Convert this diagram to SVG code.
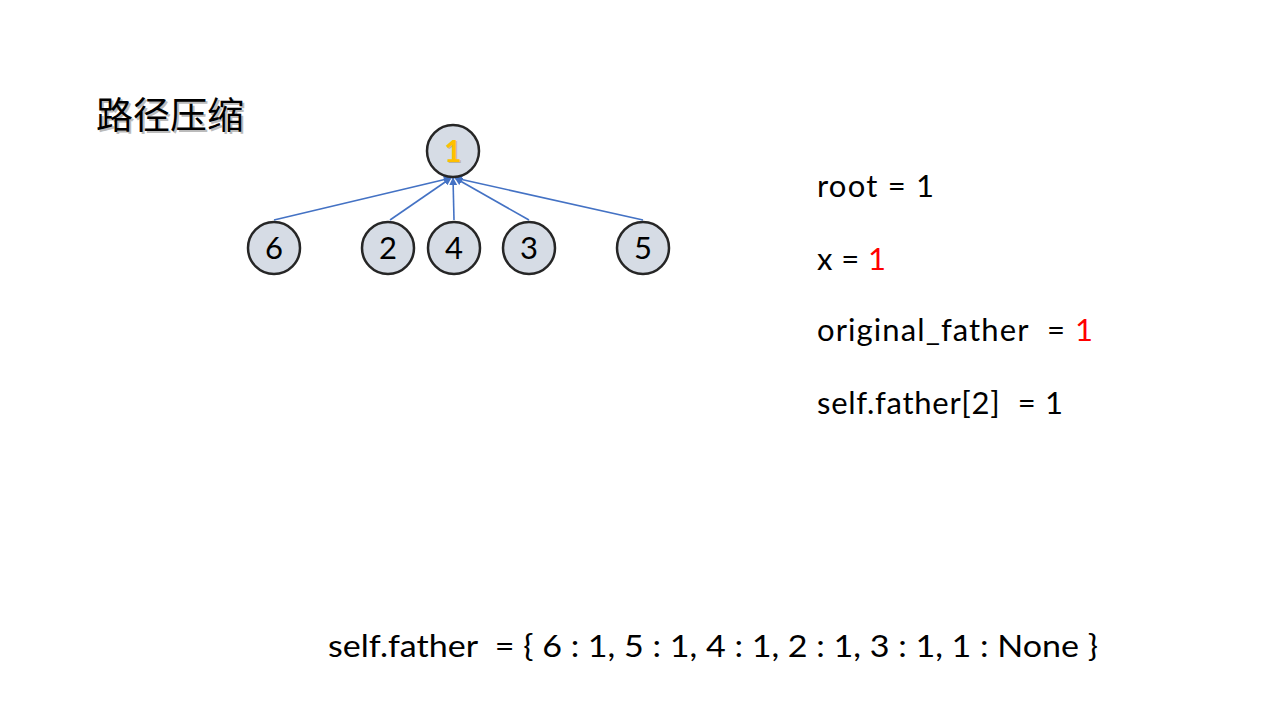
<svg xmlns="http://www.w3.org/2000/svg" width="1280" height="720" viewBox="0 0 1280 720" xml:space="preserve">
<style>
.node{fill:#D6DCE5;stroke:#262626;stroke-width:2.5}
.lbl{font-family:Lato,"Open Sans","Liberation Sans",sans-serif;font-size:31px;fill:#000;text-anchor:middle}
.txt{font-family:Lato,"Open Sans","Liberation Sans",sans-serif;font-size:31px;fill:#000;white-space:pre}
.red{fill:#FF0000}
.edge{stroke:#4472C4;stroke-width:1.6;fill:none;marker-end:url(#arr)}
</style>
<defs>
<marker id="arr" viewBox="0 0 10 10" refX="9" refY="5" markerWidth="5" markerHeight="5" orient="auto" markerUnits="strokeWidth">
<path d="M0,0 L10,5 L0,10 z" fill="#4472C4"/>
</marker>
</defs>
<rect width="1280" height="720" fill="#fff"/>
<g id="title">
<text x="98" y="131" font-family="'Noto Sans CJK SC',sans-serif" font-size="37" fill="#bbb">路径压缩</text>
<text x="96" y="129" font-family="'Noto Sans CJK SC',sans-serif" font-size="37" fill="#000">路径压缩</text>
</g>
<g id="connectors">
<line class="edge" x1="274" y1="220" x2="451" y2="178"/>
<line class="edge" x1="390" y1="220" x2="451" y2="178"/>
<line class="edge" x1="454" y1="220" x2="453" y2="178"/>
<line class="edge" x1="529" y1="220" x2="455" y2="178"/>
<line class="edge" x1="643" y1="220" x2="455" y2="178"/>
</g>
<g id="n1"><circle class="node" cx="453" cy="151" r="26"/>
<text x="454" y="163" font-family="Lato,'Liberation Sans',sans-serif" font-size="30" font-weight="bold" fill="#9a8a60" opacity="0.5" text-anchor="middle">1</text>
<text x="453" y="162" font-family="Lato,'Liberation Sans',sans-serif" font-size="30" font-weight="bold" fill="#FFC000" text-anchor="middle">1</text></g>
<g id="n6"><circle class="node" cx="274" cy="248" r="26"/><text class="lbl" x="274" y="259">6</text></g>
<g id="n2"><circle class="node" cx="388" cy="248" r="26"/><text class="lbl" x="388" y="259">2</text></g>
<g id="n4"><circle class="node" cx="454" cy="248" r="26"/><text class="lbl" x="454" y="259">4</text></g>
<g id="n3"><circle class="node" cx="529" cy="248" r="26"/><text class="lbl" x="529" y="259">3</text></g>
<g id="n5"><circle class="node" cx="643" cy="248" r="26"/><text class="lbl" x="643" y="259">5</text></g>
<g id="vars">
<text class="txt" x="817" y="197" textLength="117">root = 1</text>
<text class="txt" x="817" y="270" textLength="69">x = <tspan class="red">1</tspan></text>
<text class="txt" x="817" y="341" textLength="276">original_father  = <tspan class="red">1</tspan></text>
<text class="txt" x="817" y="414" textLength="246">self.father[2]  = 1</text>
</g>
<text class="txt" x="328" y="657" textLength="770" lengthAdjust="spacingAndGlyphs">self.father  = { 6 : 1, 5 : 1, 4 : 1, 2 : 1, 3 : 1, 1 : None }</text>
</svg>
